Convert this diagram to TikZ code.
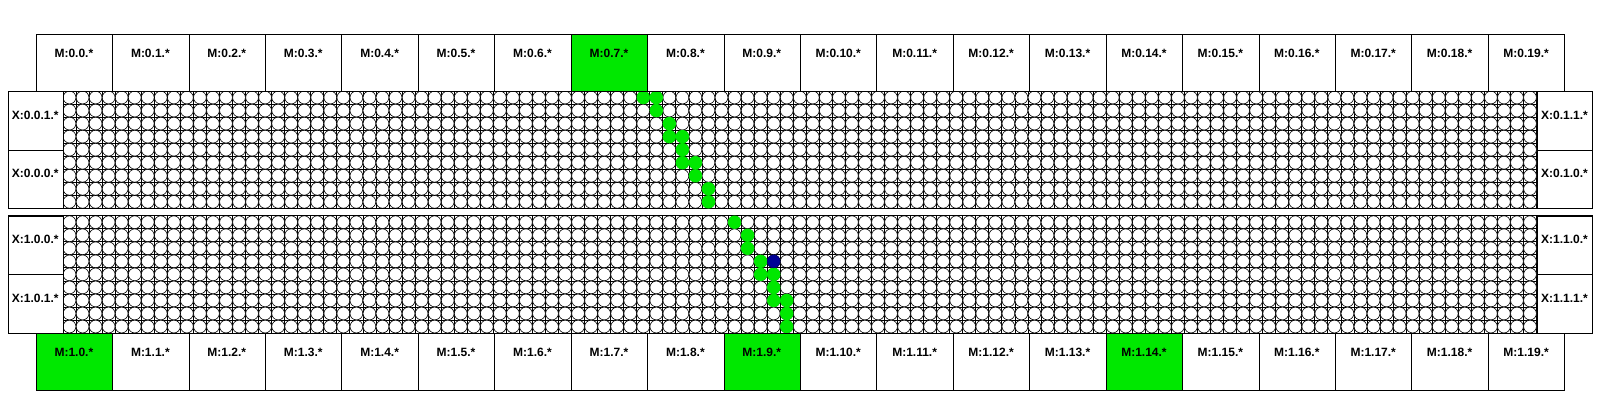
\documentclass[tikz,border=0pt]{standalone}
\usepackage{fontspec}
\setmainfont{Liberation Sans}
\definecolor{nocgreen}{RGB}{0,232,0}
\definecolor{nocblue}{RGB}{0,0,150}
\begin{document}
\begin{tikzpicture}[x=1pt,y=-1pt,
  mbox/.style={draw=black, line width=0.9pt, minimum width=76.43pt, minimum height=56.7pt, inner sep=0pt, anchor=north west},
  xbox/.style={draw=black, line width=0.9pt, fill=white, minimum height=58.7pt, inner sep=0pt, anchor=north west},
  lab/.style={font=\bfseries\fontsize{12}{13}\selectfont, anchor=center, inner sep=0pt},
  gline/.style={line width=0.8pt, black},
  cell/.style={draw=black, fill=white, line width=0.6pt},
  hit/.style={fill=nocgreen},
  cur/.style={fill=nocblue, draw=nocblue!70!black, line width=0.5pt},
  blockframe/.style={draw=black, line width=0.9pt}
]
\useasboundingbox (0,0) rectangle (1600,400);
\def\cs{13.04}
\def\gx{63}
% ---- two grid blocks ----
\foreach \yy in {91, 215.7}{
  \fill[white] (\gx,\yy) rectangle ({\gx+113*\cs},{\yy+9*\cs});
  \foreach \k in {0,...,113}{
    \draw[gline] ({\gx+\k*\cs},\yy) -- ({\gx+\k*\cs},{\yy+9*\cs});
  }
  \foreach \k in {0,...,9}{
    \draw[gline] (\gx,{\yy+\k*\cs}) -- ({\gx+113*\cs},{\yy+\k*\cs});
  }
  \foreach \cc in {0,...,112}{
    \foreach \rr in {0,...,8}{
      \path[cell] ({\gx+(\cc+0.5)*\cs},{\yy+(\rr+0.5)*\cs}) circle[radius=6.4pt];
    }
  }
  \draw[blockframe] (8.3,\yy) rectangle (1592.3,{\yy+9*\cs});
}
% ---- route, upper block ----
\foreach \cc/\rr in {44/0,45/0,45/1,46/2,46/3,47/3,47/4,47/5,48/5,48/6,49/7,49/8}{
  \path[hit] ({\gx+(\cc+0.5)*\cs},{91+(\rr+0.5)*\cs}) circle[radius=6.7pt];
}
% ---- route, lower block ----
\foreach \cc/\rr in {51/0,52/1,52/2,53/3,53/4,54/4,54/5,54/6,55/6,55/7,55/8}{
  \path[hit] ({\gx+(\cc+0.5)*\cs},{215.7+(\rr+0.5)*\cs}) circle[radius=6.7pt];
}
\path[cur] ({\gx+54.5*\cs},{215.7+3.5*\cs}) circle[radius=6.5pt];
% ---- X boxes ----
\node[xbox, minimum width=54.7pt] (x001) at (8.3,91) {};
\node[xbox, minimum width=54.7pt] (x000) at (8.3,149.7) {};
\node[xbox, minimum width=55.6pt] (x011) at (1536.7,91) {};
\node[xbox, minimum width=55.6pt] (x010) at (1536.7,149.7) {};
\node[xbox, minimum width=54.7pt] (x100) at (8.3,215.7) {};
\node[xbox, minimum width=54.7pt] (x101) at (8.3,274.4) {};
\node[xbox, minimum width=55.6pt] (x110) at (1536.7,215.7) {};
\node[xbox, minimum width=55.6pt] (x111) at (1536.7,274.4) {};
\node[lab] (lx001) at (35.3,115) {X:0.0.1.*};
\node[lab] (lx000) at (35.3,173.7) {X:0.0.0.*};
\node[lab] (lx011) at (1564.5,115) {X:0.1.1.*};
\node[lab] (lx010) at (1564.5,173.7) {X:0.1.0.*};
\node[lab] (lx100) at (35.3,239.7) {X:1.0.0.*};
\node[lab] (lx101) at (35.3,298.4) {X:1.0.1.*};
\node[lab] (lx110) at (1564.5,239.7) {X:1.1.0.*};
\node[lab] (lx111) at (1564.5,298.4) {X:1.1.1.*};
% ---- M boxes ----
\foreach \i in {0,...,19}{
  \ifnum\i=7 \def\ff{nocgreen}\else\def\ff{white}\fi
  \node[mbox, fill=\ff] (mt\i) at ({35.7+\i*76.43},34.3) {};
  \node[lab] (lmt\i) at ({35.7+(\i+0.5)*76.43},53) {M:0.\i.*};
}
\foreach \i in {0,...,19}{
  \def\ff{white}
  \ifnum\i=0 \def\ff{nocgreen}\fi
  \ifnum\i=9 \def\ff{nocgreen}\fi
  \ifnum\i=14 \def\ff{nocgreen}\fi
  \node[mbox, fill=\ff] (mb\i) at ({35.7+\i*76.43},333.1) {};
  \node[lab] (lmb\i) at ({35.7+(\i+0.5)*76.43},352.5) {M:1.\i.*};
}
\end{tikzpicture}
\end{document}
